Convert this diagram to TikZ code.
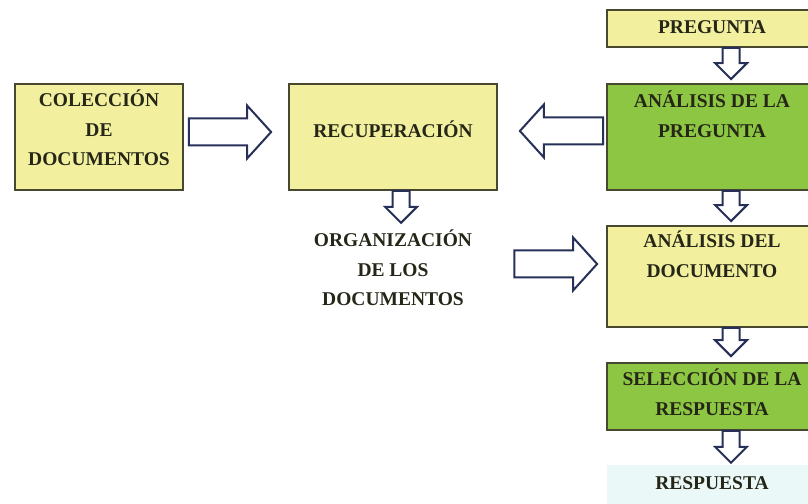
\documentclass[tikz,border=0pt]{standalone}
\usepackage{fontspec}
\setmainfont{Liberation Serif}
\usetikzlibrary{calc, positioning}
\definecolor{boxyellow}{RGB}{242,240,158}
\definecolor{boxgreen}{RGB}{140,198,66}
\definecolor{boxedge}{RGB}{72,72,48}
\definecolor{arrowblue}{RGB}{38,48,88}
\definecolor{respcyan}{RGB}{234,248,248}
\definecolor{txtcol}{RGB}{38,38,24}
\tikzset{
  box/.style={rectangle, draw=boxedge, line width=1.8pt, fill=boxyellow,
              inner sep=0pt, minimum width=210pt},
  gbox/.style={box, fill=boxgreen},
  lbl/.style={font=\bfseries\fontsize{19.5}{29.5}\selectfont, text=txtcol,
              align=center, inner sep=0pt},
  blk/.style n args={3}{draw=arrowblue, line width=2pt, fill=white, line join=miter,
    to path={let \p1=(\tikztostart), \p2=(\tikztotarget),
                 \n1={atan2(\y2-\y1,\x2-\x1)} in
      ($(\p1)+({\n1+90}:#1)$)
      -- ($(\p2)+({\n1+180}:#3)+({\n1+90}:#1)$)
      -- ($(\p2)+({\n1+180}:#3)+({\n1+90}:#2)$)
      -- (\p2)
      -- ($(\p2)+({\n1+180}:#3)+({\n1-90}:#2)$)
      -- ($(\p2)+({\n1+180}:#3)+({\n1-90}:#1)$)
      -- ($(\p1)+({\n1-90}:#1)$) -- cycle}},
  bigarr/.style={blk={13.5pt}{26.5pt}{24pt}},
  smallarr/.style={blk={8.5pt}{16pt}{16pt}}
}
\begin{document}
\begin{tikzpicture}[x=1pt, y=1pt]
  \useasboundingbox (0,0) rectangle (808,503);
  % left part
  \node[box, minimum width=168pt, minimum height=106pt] (col) at (99,366) {};
  \node[lbl] (colT) at (99,375) {COLECCIÓN\\DE\\DOCUMENTOS};
  \node[box, minimum width=208pt, minimum height=106pt] (rec) at (393,366) {};
  \node[lbl] (recT) at (393,374) {RECUPERACIÓN};
  \node[lbl] (orgT) at (393,235) {ORGANIZACIÓN\\DE LOS\\DOCUMENTOS};
  % right column
  \node[box, minimum height=37pt] (preg) at (712,474.5) {};
  \node[lbl] (pregT) at (712,476) {PREGUNTA};
  \node[gbox, minimum height=106pt] (apreg) at (712,366) {};
  \node[lbl] (apregT) at (712,389) {ANÁLISIS DE LA\\PREGUNTA};
  \node[box, minimum height=101pt] (adoc) at (712,226.5) {};
  \node[lbl] (adocT) at (712,249) {ANÁLISIS DEL\\DOCUMENTO};
  \node[gbox, minimum height=67pt] (sel) at (712,106.5) {};
  \node[lbl] (selT) at (712,111) {SELECCIÓN DE LA\\RESPUESTA};
  \node[fill=respcyan, inner sep=0pt, minimum width=210pt, minimum height=44pt] (resp) at (712,16) {};
  \node[lbl] (respT) at (712,20) {RESPUESTA};
  % block arrows
  \draw[bigarr] ([xshift=5pt,yshift=5pt]col.east) to ([xshift=-17pt,yshift=5pt]rec.west);
  \draw[bigarr] ([xshift=-3pt,yshift=6pt]apreg.west) to ([xshift=22pt,yshift=6pt]rec.east);
  \draw[bigarr] ([xshift=42pt,yshift=4pt]orgT.east) to ([xshift=-9pt,yshift=12.5pt]adoc.west);
  \draw[smallarr] ([xshift=8pt]rec.south) to ([xshift=8pt,yshift=7pt]orgT.north);
  \draw[smallarr] ([xshift=19pt]preg.south) to ([xshift=19pt,yshift=4pt]apreg.north);
  \draw[smallarr] ([xshift=19pt]apreg.south) to ([xshift=19pt,yshift=4pt]adoc.north);
  \draw[smallarr] ([xshift=19pt]adoc.south) to ([xshift=19pt,yshift=6pt]sel.north);
  \draw[smallarr] ([xshift=19pt]sel.south) to ([xshift=19pt,yshift=2pt]resp.north);
\end{tikzpicture}
\end{document}
